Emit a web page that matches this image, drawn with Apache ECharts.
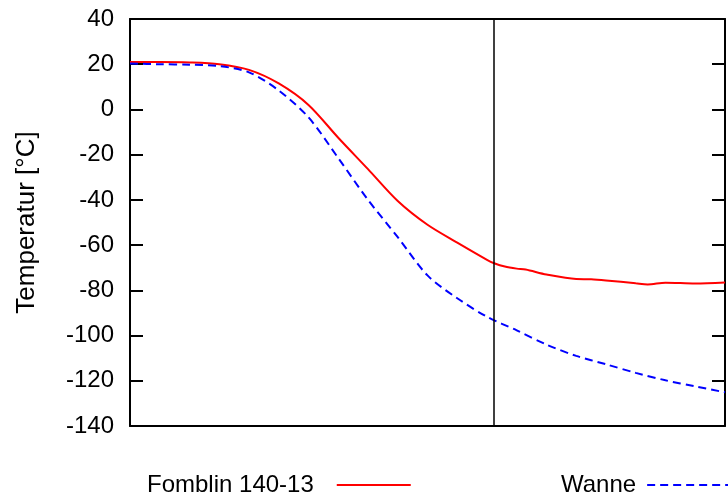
<!DOCTYPE html>
<html>
<head>
<meta charset="utf-8">
<script src="https://cdn.jsdelivr.net/npm/echarts@6/dist/echarts.min.js"></script>
<style>html,body{margin:0;padding:0;background:#fff}#c{width:728px;height:499px}</style>
</head>
<body>
<div id="c"></div>
<script>
var seriesNames = ['Fomblin 140-13', 'Wanne'];
var yTicks = [-140, -120, -100, -80, -60, -40, -20, 0, 20, 40];
var markerX = 61.2;

var fomblinX = [0, 5, 10, 15, 20, 25, 30, 35, 40, 45, 50, 55, 60, 61.2, 63, 65, 66.5, 70, 75, 77.5, 80, 85, 87, 90, 95, 100];
var fomblinY = [21, 21, 20.8, 20, 17.5, 11.5, 2, -12.5, -26.4, -40.5, -51, -58.9, -66.5, -68, -69.5, -70.4, -70.8, -73, -75, -75.1, -75.6, -76.9, -77.4, -76.6, -77, -76.5];

var wanneX = [0, 5, 10, 15, 20, 25, 30, 35, 40, 45, 50, 55, 60, 65, 70, 75, 80, 85, 90, 95, 100];
var wanneY = [20.3, 20, 19.8, 19.2, 16.4, 8.4, -3.5, -21.5, -40, -56.5, -73.4, -83.5, -91.7, -97.7, -104, -109, -112.7, -116.5, -119.8, -122.5, -125.1];

function pairs(xs, ys) { return xs.map(function (x, i) { return [x, ys[i]]; }); }

var font = 'Liberation Sans, Arial, sans-serif';
var chart = echarts.init(document.getElementById('c'));
var yMin = yTicks[0], yMax = yTicks[yTicks.length - 1], yInt = yTicks[1] - yTicks[0];
var axisLine = { show: true, onZero: false, lineStyle: { color: '#000', width: 2 } };
var tick = { show: true, inside: true, length: 13, lineStyle: { color: '#000', width: 2 } };

chart.setOption({
  animation: false,
  backgroundColor: '#fff',
  grid: { left: 130, right: 3, top: 19, bottom: 73 },
  xAxis: [
    { type: 'value', min: 0, max: 100, position: 'bottom', axisLine: axisLine, axisTick: { show: false }, axisLabel: { show: false }, splitLine: { show: false } },
    { type: 'value', min: 0, max: 100, position: 'top', axisLine: axisLine, axisTick: { show: false }, axisLabel: { show: false }, splitLine: { show: false } }
  ],
  yAxis: [
    {
      type: 'value', min: yMin, max: yMax, interval: yInt, position: 'left',
      name: 'Temperatur [°C]', nameLocation: 'middle', nameGap: 90,
      nameTextStyle: { fontFamily: font, fontSize: 26, color: '#000' },
      axisLine: axisLine, axisTick: tick,
      axisLabel: { fontFamily: font, fontSize: 24, color: '#000', margin: 16 },
      splitLine: { show: false }
    },
    {
      type: 'value', min: yMin, max: yMax, interval: yInt, position: 'right',
      axisLine: axisLine, axisTick: tick,
      axisLabel: { show: false }, splitLine: { show: false }
    }
  ],
  legend: [
    {
      data: [seriesNames[0]], left: 142, top: 468, align: 'right', orient: 'horizontal',
      itemWidth: 74, itemHeight: 14, itemStyle: { opacity: 0 },
      textStyle: { fontFamily: font, fontSize: 24, color: '#000', padding: [0, 18, 0, 0] }
    },
    {
      data: [seriesNames[1]], left: 556, top: 468, align: 'right', orient: 'horizontal',
      itemWidth: 90, itemHeight: 14, itemStyle: { opacity: 0 },
      textStyle: { fontFamily: font, fontSize: 24, color: '#000', padding: [0, 6, 0, 0] }
    }
  ],
  series: [
    {
      name: seriesNames[0], type: 'line', data: pairs(fomblinX, fomblinY),
      smooth: 0.3, symbol: 'none', lineStyle: { color: '#ff0000', width: 2 }, itemStyle: { color: '#ff0000' },
      markLine: {
        silent: true, symbol: ['none', 'none'], label: { show: false },
        lineStyle: { color: '#000', width: 1.5, type: 'solid' },
        data: [{ xAxis: markerX }]
      }
    },
    {
      name: seriesNames[1], type: 'line', data: pairs(wanneX, wanneY),
      smooth: 0.3, symbol: 'none', lineStyle: { color: '#0000ff', width: 2, type: [8, 5] }, itemStyle: { color: '#0000ff' }
    }
  ]
});
</script>
</body>
</html>
